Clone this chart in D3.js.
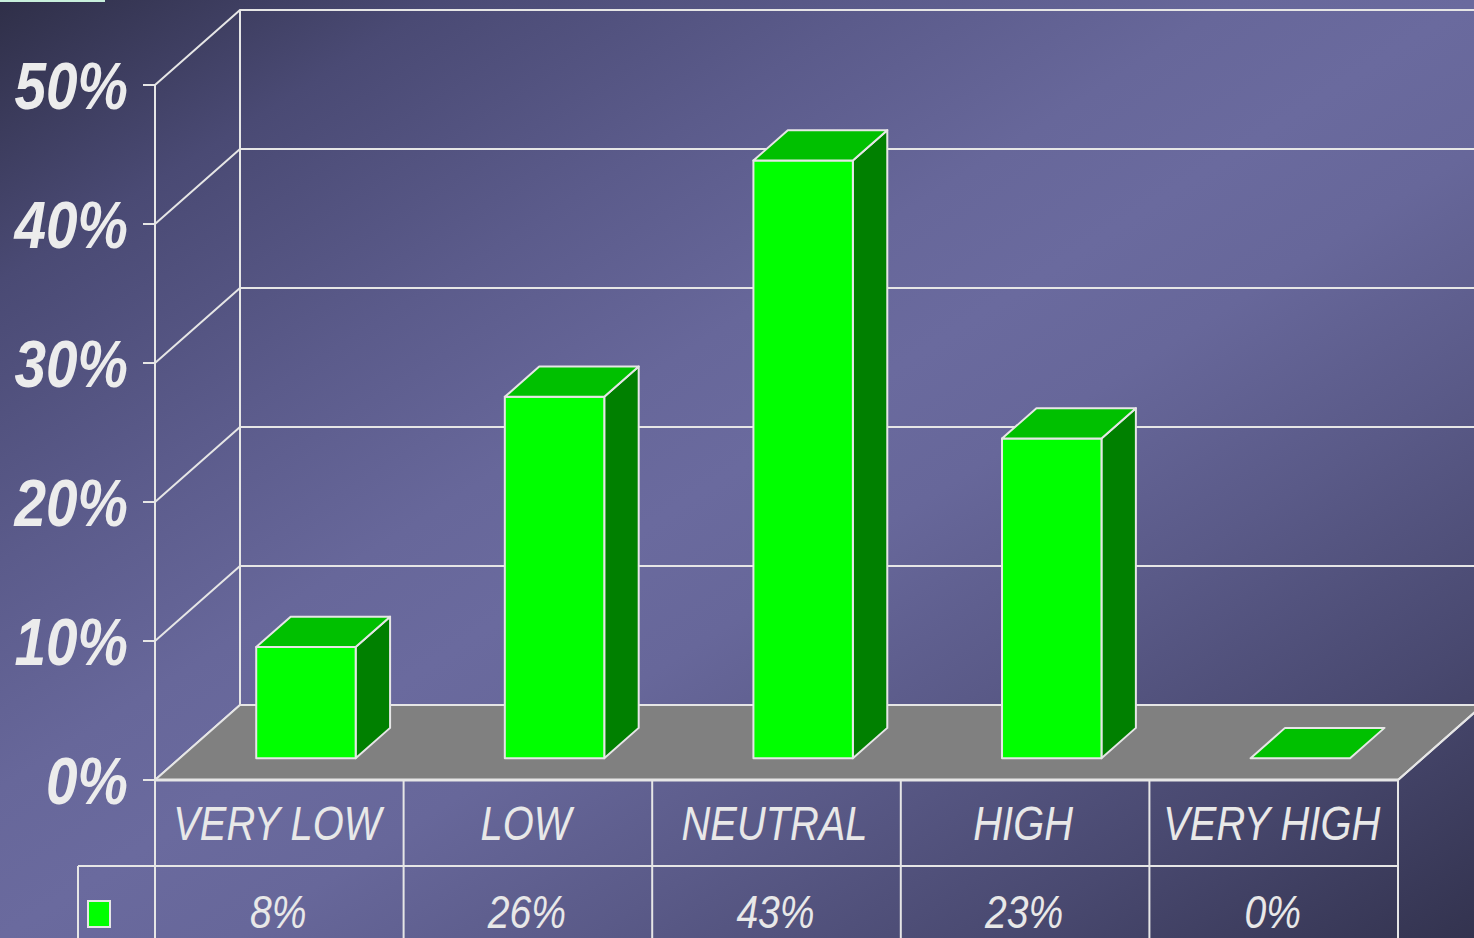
<!DOCTYPE html>
<html><head><meta charset="utf-8">
<script src="https://cdn.jsdelivr.net/npm/d3@7"></script>
<style>html,body{margin:0;padding:0;overflow:hidden;background:#30304a}svg{display:block}</style>
</head><body>
<script>
const categories = ["VERY LOW", "LOW", "NEUTRAL", "HIGH", "VERY HIGH"];
const values = [8, 26, 43, 23, 0];
const valueLabels = ["8%", "26%", "43%", "23%", "0%"];
const yTicks = [0, 10, 20, 30, 40, 50];
const yTickLabels = ["0%", "10%", "20%", "30%", "40%", "50%"];

const W = 1474, H = 938;
const svg = d3.select("body").append("svg").attr("width", W).attr("height", H);

// background gradient
const defs = svg.append("defs");
const g = defs.append("linearGradient").attr("id", "bg").attr("x1", 0).attr("y1", 0).attr("x2", 1).attr("y2", 1);
[[0, "#2f2f48"], [0.15, "#4a4a74"], [0.3, "#5b5b8b"], [0.42, "#67679a"], [0.5, "#6a6a9e"], [0.58, "#67679a"], [0.7, "#5a5a88"], [0.84, "#494970"], [1, "#33334f"]]
  .forEach(([o, c]) => g.append("stop").attr("offset", o).attr("stop-color", c));
svg.append("rect").attr("width", W).attr("height", H).attr("fill", "url(#bg)");
svg.append("rect").attr("x", 0).attr("y", 0).attr("width", 105).attr("height", 2).attr("fill", "#c8f0dc");

const y = d3.scaleLinear().domain([0, 50]).range([780, 85]);
const x = d3.scaleBand().domain(categories).range([155, 1398]).padding(0);
const DX = 85, DY = -75;
const P = (px, py, d) => [px + d * DX, py + d * DY];
const LINE = "#e6e6e6";
const right = 1398;

// walls: gridlines
const grid = svg.append("g").attr("fill", "none").attr("stroke", LINE).attr("stroke-width", 2);
yTicks.forEach(t => {
  const a = P(x.range()[0], y(t), 0), b = P(x.range()[0], y(t), 1), c = P(right, y(t), 1);
  grid.append("path").attr("d", d3.line()([[143, y(t)], a, b, c]));
});
grid.append("line").attr("x1", 155 + DX).attr("x2", 155 + DX).attr("y1", y(50) + DY).attr("y2", y(0) + DY);

// floor
const floor = [P(155, y(0), 0), P(155, y(0), 1), P(right, y(0), 1), P(right, y(0), 0)];
svg.append("path").attr("d", d3.line()(floor) + "Z").attr("fill", "#808080").attr("stroke", LINE).attr("stroke-width", 2);

// bars
const f1 = 0.29, f2 = 0.695;
const bw = x.bandwidth();
const bars = svg.append("g").attr("stroke", LINE).attr("stroke-width", 2).attr("stroke-linejoin", "round");
categories.forEach((c, i) => {
  const v = values[i];
  const xl = x(c) + bw * 0.308, xr = x(c) + bw * 0.708;
  const yb = y(0), yt = y(v);
  const fl = P(xl, yt, f1), fr = P(xr, yt, f1), br = P(xr, yt, f2), bl = P(xl, yt, f2);
  const flb = P(xl, yb, f1), frb = P(xr, yb, f1), brb = P(xr, yb, f2);
  if (v > 0) {
    bars.append("path").attr("d", d3.line()([fr, br, brb, frb]) + "Z").attr("fill", "#008000");
    bars.append("path").attr("d", d3.line()([fl, fr, frb, flb]) + "Z").attr("fill", "#00ff00");
  }
  bars.append("path").attr("d", d3.line()([fl, fr, br, bl]) + "Z").attr("fill", "#00c000");
});

// y labels
const ylab = svg.append("g").attr("fill", "#ececec").attr("font-family", "'Liberation Sans', Arial, sans-serif")
  .attr("font-weight", "bold").attr("font-style", "italic").attr("font-size", 66);
yTicks.forEach((t, i) => {
  ylab.append("text").attr("transform", `translate(128,${y(t)}) scale(0.86,1)`)
    .attr("text-anchor", "end").attr("dy", "0.36em").text(yTickLabels[i]);
});

// table
const tbl = svg.append("g").attr("stroke", LINE).attr("stroke-width", 2);
const r0 = y(0), r1 = 866, r2 = 952;
tbl.append("line").attr("x1", 155).attr("x2", right).attr("y1", r0).attr("y2", r0).attr("stroke-width", 3);
tbl.append("line").attr("x1", 78).attr("x2", right).attr("y1", r1).attr("y2", r1);
tbl.append("line").attr("x1", 155).attr("x2", 155).attr("y1", y(50)).attr("y2", H);
tbl.append("line").attr("x1", 78).attr("x2", 78).attr("y1", r1).attr("y2", H);
categories.forEach(c => {
  tbl.append("line").attr("x1", x(c) + bw).attr("x2", x(c) + bw).attr("y1", r0).attr("y2", H);
});
// right floor edge
tbl.append("path").attr("fill", "none").attr("d", d3.line()([P(right, y(0), 0), P(right, y(0), 1)]));

svg.append("rect").attr("x", 88).attr("y", 901).attr("width", 22).attr("height", 26)
  .attr("fill", "#00ff00").attr("stroke", LINE).attr("stroke-width", 2);

const txt = svg.append("g").attr("fill", "#e8e8e8").attr("font-family", "'Liberation Sans', Arial, sans-serif")
  .attr("font-style", "italic").attr("text-anchor", "middle");
categories.forEach((c, i) => {
  const cx = x(c) + bw / 2;
  txt.append("text").attr("font-size", 48).attr("transform", `translate(${cx - 2},${(r0 + r1) / 2}) scale(0.83,1)`)
    .attr("dy", "0.36em").text(c);
  txt.append("text").attr("font-size", 46).attr("transform", `translate(${cx - 1},${(r1 + r2) / 2 + 2}) scale(0.85,1)`)
    .attr("dy", "0.36em").text(valueLabels[i]);
});
</script>
</body></html>
